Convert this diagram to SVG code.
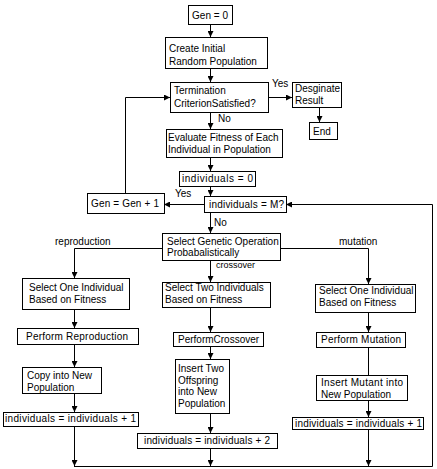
<svg xmlns="http://www.w3.org/2000/svg" width="437" height="469" viewBox="0 0 437 469">
<style>
  rect { fill: #fff; stroke: #000; stroke-width: 1; }
  text { font-family: "Liberation Sans", Arial, sans-serif; font-size: 10px; fill: #000; }
  .c path, .c line, .c polyline { fill: none; stroke: #000; stroke-width: 1; }
</style>
<defs>
  <marker id="a" viewBox="0 0 6 6" refX="6" refY="3" markerWidth="6" markerHeight="6" markerUnits="userSpaceOnUse" orient="auto">
    <path d="M0,0 L6,3 L0,6 Z" fill="#000"/>
  </marker>
</defs>
<rect x="0" y="0" width="437" height="469" style="stroke:none"/>

<g class="c" id="connectors">
  <line x1="210.5" y1="24" x2="210.5" y2="37" marker-end="url(#a)"/>
  <line x1="210.5" y1="68" x2="210.5" y2="82" marker-end="url(#a)"/>
  <line x1="269" y1="97.5" x2="292" y2="97.5" marker-end="url(#a)"/>
  <line x1="319.5" y1="107" x2="319.5" y2="122" marker-end="url(#a)"/>
  <line x1="210.5" y1="112" x2="210.5" y2="129" marker-end="url(#a)"/>
  <line x1="210.5" y1="157" x2="210.5" y2="171" marker-end="url(#a)"/>
  <line x1="210.5" y1="186" x2="210.5" y2="196" marker-end="url(#a)"/>
  <line x1="204" y1="204.5" x2="164" y2="204.5" marker-end="url(#a)"/>
  <polyline points="125.5,193 125.5,97.5 170,97.5" marker-end="url(#a)"/>
  <line x1="210.5" y1="212" x2="210.5" y2="233" marker-end="url(#a)"/>
  <polyline points="162,248.5 74.5,248.5 74.5,278" marker-end="url(#a)"/>
  <line x1="210.5" y1="260" x2="210.5" y2="282" marker-end="url(#a)"/>
  <polyline points="280,248.5 368.5,248.5 368.5,284" marker-end="url(#a)"/>
  <line x1="74.5" y1="309" x2="74.5" y2="328" marker-end="url(#a)"/>
  <line x1="74.5" y1="344" x2="74.5" y2="367" marker-end="url(#a)"/>
  <line x1="74.5" y1="393" x2="74.5" y2="412" marker-end="url(#a)"/>
  <line x1="74.5" y1="426" x2="74.5" y2="466" marker-end="url(#a)"/>
  <line x1="210.5" y1="307" x2="210.5" y2="332" marker-end="url(#a)"/>
  <line x1="210.5" y1="346" x2="210.5" y2="359" marker-end="url(#a)"/>
  <line x1="210.5" y1="413" x2="210.5" y2="433" marker-end="url(#a)"/>
  <line x1="210.5" y1="448" x2="210.5" y2="466" marker-end="url(#a)"/>
  <line x1="368.5" y1="312" x2="368.5" y2="332" marker-end="url(#a)"/>
  <line x1="368.5" y1="347" x2="368.5" y2="375"/>
  <line x1="368.5" y1="400" x2="368.5" y2="417" marker-end="url(#a)"/>
  <line x1="368.5" y1="429" x2="368.5" y2="466" marker-end="url(#a)"/>
  <polyline points="74,466.5 432.5,466.5 432.5,204.5 286,204.5" marker-end="url(#a)"/>
</g>

<g id="labels">
  <text x="272" y="87">Yes</text>
  <text x="218" y="122">No</text>
  <text x="175" y="197">Yes</text>
  <text x="214" y="226">No</text>
  <text x="55" y="245">reproduction</text>
  <text x="339" y="245">mutation</text>
  <text x="216" y="268" style="font-size:9px">crossover</text>
</g>

<g id="gen0"><rect x="188.5" y="5.5" width="44" height="19"/><text x="192" y="19" textLength="36">Gen = 0</text></g>
<g id="create"><rect x="165.5" y="37.5" width="102" height="31"/><text x="169" y="52">Create Initial</text><text x="169" y="65">Random Population</text></g>
<g id="termination"><rect x="170.5" y="82.5" width="98" height="30"/><text x="174" y="94">Termination</text><text x="174" y="107">CriterionSatisfied?</text></g>
<g id="designate"><rect x="292.5" y="82.5" width="49" height="25"/><text x="295" y="92">Desginate</text><text x="295" y="104">Result</text></g>
<g id="end"><rect x="309.5" y="122.5" width="28" height="17"/><text x="313" y="135">End</text></g>
<g id="evaluate"><rect x="166.5" y="129.5" width="116" height="28"/><text x="168" y="141">Evaluate Fitness of Each</text><text x="168" y="153">Individual  in Population</text></g>
<g id="ind0"><rect x="179.5" y="171.5" width="76" height="15"/><text x="182" y="182" textLength="71">individuals = 0</text></g>
<g id="indM"><rect x="204.5" y="196.5" width="82" height="16"/><text x="209" y="208" textLength="75">individuals = M?</text></g>
<g id="genplus"><rect x="87.5" y="193.5" width="77" height="20"/><text x="91" y="207" textLength="68">Gen = Gen + 1</text></g>
<g id="selectop"><rect x="162.5" y="233.5" width="118" height="27"/><text x="167" y="245">Select Genetic Operation</text><text x="167" y="256">Probabalistically</text></g>

<g id="sel1l"><rect x="22.5" y="278.5" width="107" height="31"/><text x="29" y="291">Select One Individual</text><text x="29" y="303">Based on Fitness</text></g>
<g id="repro"><rect x="17.5" y="328.5" width="121" height="16"/><text x="26" y="340" textLength="102">Perform  Reproduction</text></g>
<g id="copy"><rect x="22.5" y="367.5" width="79" height="26"/><text x="27" y="379">Copy into New</text><text x="27" y="391">Population</text></g>
<g id="inc1l"><rect x="3.5" y="412.5" width="135" height="14"/><text x="5" y="422" textLength="131">individuals = individuals + 1</text></g>

<g id="sel2"><rect x="162.5" y="282.5" width="108" height="25"/><text x="165" y="291">Select Two Individuals</text><text x="165" y="303">Based on Fitness</text></g>
<g id="cross"><rect x="173.5" y="332.5" width="90" height="14"/><text x="178" y="343">PerformCrossover</text></g>
<g id="insert2"><rect x="175.5" y="359.5" width="54" height="54"/><text x="178" y="372">Insert Two</text><text x="178" y="384">Offspring</text><text x="178" y="395">into New</text><text x="178" y="407">Population</text></g>
<g id="inc2"><rect x="137.5" y="433.5" width="140" height="15"/><text x="144" y="444" textLength="126">individuals = individuals + 2</text></g>

<g id="sel1r"><rect x="315.5" y="284.5" width="100" height="28"/><text x="319" y="294">Select One Individual</text><text x="319" y="306">Based on Fitness</text></g>
<g id="mut"><rect x="316.5" y="332.5" width="89" height="15"/><text x="321" y="343" textLength="80">Perform  Mutation</text></g>
<g id="insertm"><rect x="316.5" y="375.5" width="91" height="25"/><text x="321" y="386" textLength="82">Insert  Mutant into</text><text x="321" y="398">New Population</text></g>
<g id="inc1r"><rect x="292.5" y="417.5" width="131" height="12"/><text x="295" y="427" textLength="127">individuals = individuals + 1</text></g>
</svg>
